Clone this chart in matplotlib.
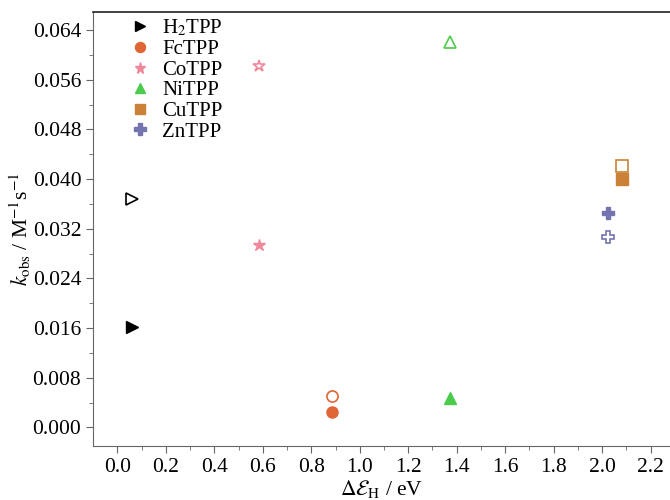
import matplotlib
matplotlib.use('Agg')
import matplotlib.pyplot as plt
import numpy as np

plt.rcParams['font.family'] = ['Liberation Serif', 'DejaVu Serif']
plt.rcParams['mathtext.fontset'] = 'stix'

names = ['H$_2$TPP', 'FcTPP', 'CoTPP', 'NiTPP', 'CuTPP', 'ZnTPP']
dE = [0.062, 0.887, 0.586, 1.373, 2.082, 2.025]
k_filled = [0.0161, 0.0024, 0.0293, 0.0047, 0.0400, 0.0345]
k_open = [0.0368, 0.0050, 0.0582, 0.0621, 0.0421, 0.0307]
colors = ['black', '#E06535', '#F0889C', '#4CCB4C', '#CC8236', '#7474B0']
markers = ['>', 'o', '*', '^', 's', 'P']
sizes = [8, 8, 9, 8, 8, 9]

fig = plt.figure(figsize=(6.7, 5), dpi=100)
ax = fig.add_axes([0.139, 0.108, 0.861, 0.868])

for i in range(len(names)):
    ax.plot(dE[i], k_filled[i], linestyle='none', marker=markers[i], ms=sizes[i],
            color=colors[i], mec=colors[i], label=names[i])
    ax.plot(dE[i], k_open[i], linestyle='none', marker=markers[i], ms=sizes[i],
            mfc='white', mec=colors[i], mew=1.2)

ax.set_xlim(-0.1, 2.28)
ax.set_ylim(-0.003, 0.0669)
ax.set_xticks(np.arange(0, 2.21, 0.2))
ax.set_xticks(np.arange(0.1, 2.21, 0.2), minor=True)
ax.set_yticks(np.arange(0, 0.0641, 0.008))
ax.set_yticks(np.arange(0.004, 0.066, 0.008), minor=True)
ax.set_xticklabels(['%.1f' % v for v in np.arange(0, 2.21, 0.2)])
ax.set_yticklabels(['%.3f' % v for v in np.arange(0, 0.0641, 0.008)])

ax.tick_params(which='both', direction='out', color='#666666', labelsize=15.5)
ax.tick_params(which='major', length=5)
ax.tick_params(which='minor', length=3)
for s in ['left', 'bottom']:
    ax.spines[s].set_color('#666666')
ax.spines['top'].set_color('#222222')
ax.spines['top'].set_linewidth(1.2)
ax.spines['right'].set_visible(False)

ax.set_xlabel(r'$\Delta\mathcal{E}_{\rm H}$ / eV', fontsize=15.5, labelpad=1)
ax.set_ylabel(r'$k_{\rm obs}$ / M$^{-1}$s$^{-1}$', fontsize=15.5, labelpad=0)

leg = ax.legend(loc='upper left', bbox_to_anchor=(0.033, 1.02), frameon=False,
                fontsize=15, handletextpad=0.4, labelspacing=0.05,
                borderaxespad=0.3, handlelength=1.3, markerscale=0.9)

fig.savefig('out.png')
